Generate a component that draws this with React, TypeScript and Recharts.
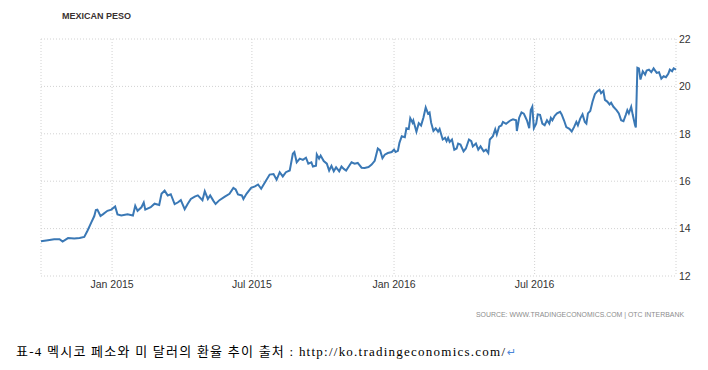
import { CartesianGrid, Line, LineChart, XAxis, YAxis } from "recharts";

// USD/MXN (Oct 2014 - Dec 2016)
const dates2014 = [
  "2014-10-01", "2014-10-10", "2014-10-18", "2014-10-25", "2014-10-29", "2014-11-05", "2014-11-13",
  "2014-11-20", "2014-11-26", "2014-11-30", "2014-12-05", "2014-12-09", "2014-12-11", "2014-12-13",
  "2014-12-17", "2014-12-20", "2014-12-26", "2014-12-31",
];
const peso2014 = [
  13.47, 13.51, 13.55, 13.55, 13.45, 13.6, 13.58, 13.6, 13.65, 13.9, 14.25, 14.53, 14.78, 14.8, 14.53, 14.6,
  14.75, 14.8,
];

const dates2015 = [
  "2015-01-05", "2015-01-08", "2015-01-13", "2015-01-21", "2015-01-28", "2015-01-31", "2015-02-03",
  "2015-02-08", "2015-02-11", "2015-02-13", "2015-02-20", "2015-02-25", "2015-03-03", "2015-03-06",
  "2015-03-10", "2015-03-14", "2015-03-18", "2015-03-23", "2015-03-27", "2015-03-31", "2015-04-05",
  "2015-04-09", "2015-04-13", "2015-04-18", "2015-04-22", "2015-04-28", "2015-05-01", "2015-05-05",
  "2015-05-08", "2015-05-12", "2015-05-15", "2015-05-20", "2015-05-27", "2015-06-02", "2015-06-07",
  "2015-06-10", "2015-06-13", "2015-06-18", "2015-06-20", "2015-06-24", "2015-06-30", "2015-07-05",
  "2015-07-09", "2015-07-13", "2015-07-18", "2015-07-24", "2015-07-29", "2015-08-02", "2015-08-06",
  "2015-08-10", "2015-08-14", "2015-08-19", "2015-08-23", "2015-08-25", "2015-08-28", "2015-09-01",
  "2015-09-05", "2015-09-09", "2015-09-12", "2015-09-16", "2015-09-18", "2015-09-22", "2015-09-23",
  "2015-09-26", "2015-09-28", "2015-10-02", "2015-10-06", "2015-10-09", "2015-10-12", "2015-10-15",
  "2015-10-18", "2015-10-22", "2015-10-25", "2015-10-28", "2015-10-31", "2015-11-04", "2015-11-07",
  "2015-11-11", "2015-11-15", "2015-11-20", "2015-11-24", "2015-11-29", "2015-12-03", "2015-12-07",
  "2015-12-11", "2015-12-14", "2015-12-17", "2015-12-20", "2015-12-24", "2015-12-29",
];
const peso2015 = [
  14.93, 14.6, 14.55, 14.6, 14.55, 14.96, 14.75, 14.9, 15.1, 14.8, 14.9, 15.05, 15.0, 15.47, 15.6, 15.4,
  15.45, 15.03, 15.1, 15.2, 14.82, 15.05, 15.25, 15.35, 15.4, 15.2, 15.58, 15.25, 15.4, 15.18, 15.04, 15.2,
  15.35, 15.47, 15.72, 15.65, 15.44, 15.4, 15.25, 15.47, 15.72, 15.78, 15.86, 15.68, 15.96, 16.28, 16.3,
  16.06, 16.38, 16.2, 16.38, 16.45, 17.16, 17.23, 16.8, 16.95, 16.9, 16.99, 16.74, 16.8, 16.62, 16.65, 17.13,
  16.95, 17.08, 16.85, 16.74, 16.45, 16.65, 16.42, 16.59, 16.42, 16.62, 16.52, 16.45, 16.65, 16.8, 16.74,
  16.77, 16.57, 16.56, 16.6, 16.7, 16.86, 17.38, 17.3, 16.97, 17.12, 17.19, 17.23,
];

const dates2016 = [
  "2016-01-01", "2016-01-03", "2016-01-06", "2016-01-08", "2016-01-11", "2016-01-15", "2016-01-17",
  "2016-01-20", "2016-01-22", "2016-01-25", "2016-01-26", "2016-01-30", "2016-02-02", "2016-02-05",
  "2016-02-08", "2016-02-11", "2016-02-14", "2016-02-16", "2016-02-18", "2016-02-21", "2016-02-24",
  "2016-02-27", "2016-02-29", "2016-03-04", "2016-03-07", "2016-03-09", "2016-03-11", "2016-03-13",
  "2016-03-16", "2016-03-19", "2016-03-22", "2016-03-24", "2016-03-27", "2016-03-31", "2016-04-03",
  "2016-04-07", "2016-04-10", "2016-04-12", "2016-04-16", "2016-04-19", "2016-04-22", "2016-04-26",
  "2016-04-29", "2016-05-02", "2016-05-04", "2016-05-08", "2016-05-11", "2016-05-13", "2016-05-16",
  "2016-05-19", "2016-05-21", "2016-05-25", "2016-05-28", "2016-05-31", "2016-06-03", "2016-06-07",
  "2016-06-08", "2016-06-11", "2016-06-14", "2016-06-17", "2016-06-19", "2016-06-21", "2016-06-24",
  "2016-06-26", "2016-06-28", "2016-06-30", "2016-07-03", "2016-07-05", "2016-07-08", "2016-07-11",
  "2016-07-14", "2016-07-17", "2016-07-20", "2016-07-22", "2016-07-24", "2016-07-27", "2016-07-30",
  "2016-08-03", "2016-08-05", "2016-08-08", "2016-08-11", "2016-08-15", "2016-08-18", "2016-08-21",
  "2016-08-24", "2016-08-26", "2016-08-29", "2016-09-01", "2016-09-04", "2016-09-06", "2016-09-08",
  "2016-09-11", "2016-09-14", "2016-09-17", "2016-09-20", "2016-09-23", "2016-09-25", "2016-09-28",
  "2016-09-30", "2016-10-03", "2016-10-06", "2016-10-08", "2016-10-11", "2016-10-15", "2016-10-18",
  "2016-10-21", "2016-10-24", "2016-10-27", "2016-10-29", "2016-10-31", "2016-11-03", "2016-11-05",
  "2016-11-08", "2016-11-09", "2016-11-11", "2016-11-13", "2016-11-15", "2016-11-18", "2016-11-21",
  "2016-11-23", "2016-11-26", "2016-11-29", "2016-12-02", "2016-12-06", "2016-12-09", "2016-12-12",
  "2016-12-15", "2016-12-18", "2016-12-21", "2016-12-23", "2016-12-26", "2016-12-28", "2016-12-31",
];
const peso2016 = [
  17.33, 17.23, 17.28, 17.62, 17.9, 17.86, 18.23, 18.2, 18.66, 18.47, 18.56, 18.09, 18.45, 18.35, 18.68,
  19.11, 18.85, 18.9, 18.47, 18.12, 18.23, 18.09, 18.2, 17.76, 17.83, 17.69, 17.83, 17.66, 17.76, 17.33,
  17.38, 17.59, 17.55, 17.26, 17.38, 17.76, 17.69, 17.47, 17.59, 17.33, 17.47, 17.26, 17.33, 17.19, 17.76,
  17.9, 18.19, 17.97, 18.3, 18.35, 18.5, 18.42, 18.5, 18.57, 18.61, 18.57, 18.12, 18.68, 18.9, 18.85, 18.71,
  18.57, 18.24, 19.0, 19.14, 18.24, 18.43, 18.82, 18.8, 18.43, 18.36, 18.57, 18.43, 18.67, 18.57, 18.76,
  18.86, 18.93, 18.82, 18.57, 18.28, 18.21, 18.1, 18.28, 18.5, 18.36, 18.64, 18.82, 18.5, 18.43, 18.86,
  18.96, 19.36, 19.67, 19.79, 19.86, 19.71, 19.81, 19.43, 19.36, 19.24, 19.31, 19.14, 19.0, 18.86, 18.57,
  18.53, 18.8, 19.0, 18.86, 19.14, 18.8, 18.36, 18.27, 20.79, 20.76, 20.29, 20.64, 20.5, 20.67, 20.71, 20.6,
  20.76, 20.57, 20.6, 20.33, 20.43, 20.39, 20.53, 20.71, 20.64, 20.76, 20.71,
];

const tickDates = ["2015-01-01", "2015-07-01", "2016-01-01", "2016-07-01"];
const tickLabels = ["Jan 2015", "Jul 2015", "Jan 2016", "Jul 2016"];
const yTicks = [12, 14, 16, 18, 20, 22];

const allDates = [...dates2014, ...dates2015, ...dates2016];
const allValues = [...peso2014, ...peso2015, ...peso2016];
const data = allDates.map((d, i) => ({ t: Date.parse(d), value: allValues[i] }));
const xTicks = tickDates.map((d) => Date.parse(d));
const xDomain = [Date.parse("2014-10-01"), Date.parse("2016-12-31")];

const tickFont = { fontSize: 10.5, fill: "#333", fontFamily: "'Liberation Sans', Arial, sans-serif" };

export default function App() {
  return (
    <div style={{ position: "absolute", left: 0, top: 0, width: 708, height: 370, background: "#fff" }}>
      <LineChart width={708} height={296} data={data} margin={{ top: 39, right: 0, left: 41, bottom: 0 }}>
        <CartesianGrid stroke="#d2d2d2" strokeDasharray="1 2" />
        <XAxis
          dataKey="t"
          type="number"
          domain={xDomain}
          ticks={xTicks}
          tickFormatter={(v) => tickLabels[xTicks.indexOf(v)] ?? ""}
          axisLine={false}
          tickLine={false}
          tickSize={0}
          tickMargin={5}
          height={20}
          tick={tickFont}
        />
        <YAxis
          orientation="right"
          domain={[12, 22]}
          ticks={yTicks}
          axisLine={false}
          tickLine={false}
          tickSize={0}
          tickMargin={3}
          width={32}
          tick={tickFont}
        />
        <Line
          type="linear"
          dataKey="value"
          stroke="#3a78b5"
          strokeWidth={2}
          dot={false}
          isAnimationActive={false}
        />
      </LineChart>
      <svg width={708} height={370} style={{ position: "absolute", left: 0, top: 0, pointerEvents: "none" }}>
        <text
          x={62}
          y={19}
          fontSize={9.5}
          fontWeight="bold"
          fill="#3a3030"
          fontFamily="'Liberation Sans', Arial, sans-serif"
          textLength={69}
          lengthAdjust="spacingAndGlyphs"
        >
          MEXICAN PESO
        </text>
        <text
          x={476}
          y={316.5}
          fontSize={7}
          fill="#8c8c8c"
          fontFamily="'Liberation Sans', Arial, sans-serif"
          textLength={208}
          lengthAdjust="spacingAndGlyphs"
        >
          SOURCE: WWW.TRADINGECONOMICS.COM | OTC INTERBANK
        </text>
        <text
          x={16}
          y={356}
          fontSize={13}
          fill="#000"
          fontFamily="'Liberation Serif', 'Noto Sans CJK KR', serif"
          textLength={489}
          lengthAdjust="spacing"
        >
          표-4 멕시코 페소와 미 달러의 환율 추이 출처 : http://ko.tradingeconomics.com/
        </text>
        <text x={507} y={356} fontSize={11} fill="#4a86d8" fontFamily="'DejaVu Sans', sans-serif">
          ↵
        </text>
      </svg>
    </div>
  );
}
